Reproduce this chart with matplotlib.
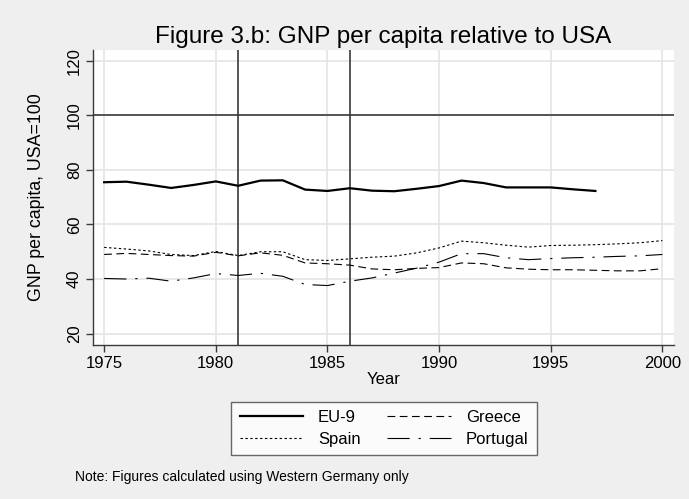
import matplotlib
matplotlib.use("Agg")
import matplotlib.pyplot as plt

plt.rcParams["font.family"] = ["Liberation Sans", "DejaVu Sans"]

years = list(range(1975, 2001))
eu9 = [75.5, 75.7, 74.6, 73.4, 74.5, 75.8, 74.2, 76.1, 76.2, 72.8, 72.3, 73.3,
       72.4, 72.2, 73.1, 74.1, 76.1, 75.2, 73.6, 73.6, 73.6, 72.9, 72.3]
greece = [49.0, 49.4, 49.0, 48.6, 48.4, 49.8, 48.5, 49.6, 48.7, 45.9, 45.6, 45.1,
          43.7, 43.4, 43.9, 44.2, 45.9, 45.6, 44.1, 43.6, 43.4, 43.4, 43.2, 43.0,
          43.0, 43.8]
spain = [51.6, 51.0, 50.3, 49.0, 48.6, 50.1, 48.6, 50.0, 50.0, 47.1, 46.8, 47.4,
         48.0, 48.4, 49.6, 51.4, 53.9, 53.3, 52.4, 51.7, 52.3, 52.4, 52.6, 52.9,
         53.3, 54.1]
portugal = [40.2, 40.0, 40.3, 39.2, 40.4, 42.0, 41.3, 42.1, 41.0, 38.0, 37.6, 39.2,
            40.4, 42.2, 44.0, 46.2, 49.3, 49.3, 47.8, 47.1, 47.5, 47.8, 48.0, 48.3,
            48.5, 49.0]

yticks = [20, 40, 60, 80, 100, 120]
xticks = [1975, 1980, 1985, 1990, 1995, 2000]
ref_years = [1981, 1986]
ref_level = 100

BG = "#EFEFEF"
GRID = "#E4E4E4"
DARK = "#3A3A3A"

fig = plt.figure(figsize=(6.89, 4.99), dpi=100, facecolor=BG)
ax = fig.add_axes([93 / 689, 1 - 345 / 499, (674 - 93) / 689, (345 - 50) / 499])
ax.set_facecolor("white")

ax.set_xlim(1974.5, 2000.52)
ax.set_ylim(15.8, 124.0)
ax.set_yticks(yticks)
ax.set_xticks(xticks)
ax.grid(True, color=GRID, linewidth=1.2, zorder=0)
ax.set_axisbelow(True)

ax.axhline(ref_level, color=DARK, linewidth=1.2, zorder=1)
for yr in ref_years:
    ax.axvline(yr, color=DARK, linewidth=1.2, zorder=1)

l_eu, = ax.plot(years[:len(eu9)], eu9, color="black", linewidth=1.6, label="EU-9", zorder=3)
l_gr, = ax.plot(years, greece, color="black", linewidth=0.8, linestyle=(0, (7, 4)),
                label="Greece", zorder=3)
l_sp, = ax.plot(years, spain, color="black", linewidth=0.8, linestyle=(0, (2.2, 2.2)),
                label="Spain", zorder=3)
l_pt, = ax.plot(years, portugal, color="black", linewidth=0.8,
                linestyle=(0, (20, 8, 2, 8)), label="Portugal", zorder=3)

for side in ["top", "right"]:
    ax.spines[side].set_visible(False)
for side in ["left", "bottom"]:
    ax.spines[side].set_color(DARK)
    ax.spines[side].set_linewidth(1.0)

ax.tick_params(axis="both", direction="out", length=5, width=1.0, color=DARK,
               labelsize=12, labelcolor="black")
ax.tick_params(axis="x", pad=3)
plt.setp(ax.get_yticklabels(), rotation=90, va="center")
ax.tick_params(axis="y", pad=3)

ax.set_xlabel("Year", fontsize=12, labelpad=1)
ax.set_ylabel("GNP per capita, USA=100", fontsize=12.8, labelpad=16)
ax.set_title("Figure 3.b: GNP per capita relative to USA", fontsize=17.5, pad=5)

# row-wise order: EU-9, Greece / Spain, Portugal
leg = fig.legend([l_eu, l_sp, l_gr, l_pt], ["EU-9", "Spain", "Greece", "Portugal"],
                 loc="center", bbox_to_anchor=(384 / 689, 1 - 428.5 / 499),
                 ncol=2, fontsize=12, frameon=True, fancybox=False,
                 handlelength=3.8, columnspacing=1.6, handletextpad=0.9,
                 borderpad=0.5, labelspacing=0.4, edgecolor="#444444")
leg.get_frame().set_linewidth(1.0)
leg.get_frame().set_facecolor("white")

fig.text(75 / 689, 1 - 477 / 499, "Note: Figures calculated using Western Germany only",
         fontsize=10, ha="left", va="center")

fig.savefig("out.png", dpi=100, facecolor=BG)
